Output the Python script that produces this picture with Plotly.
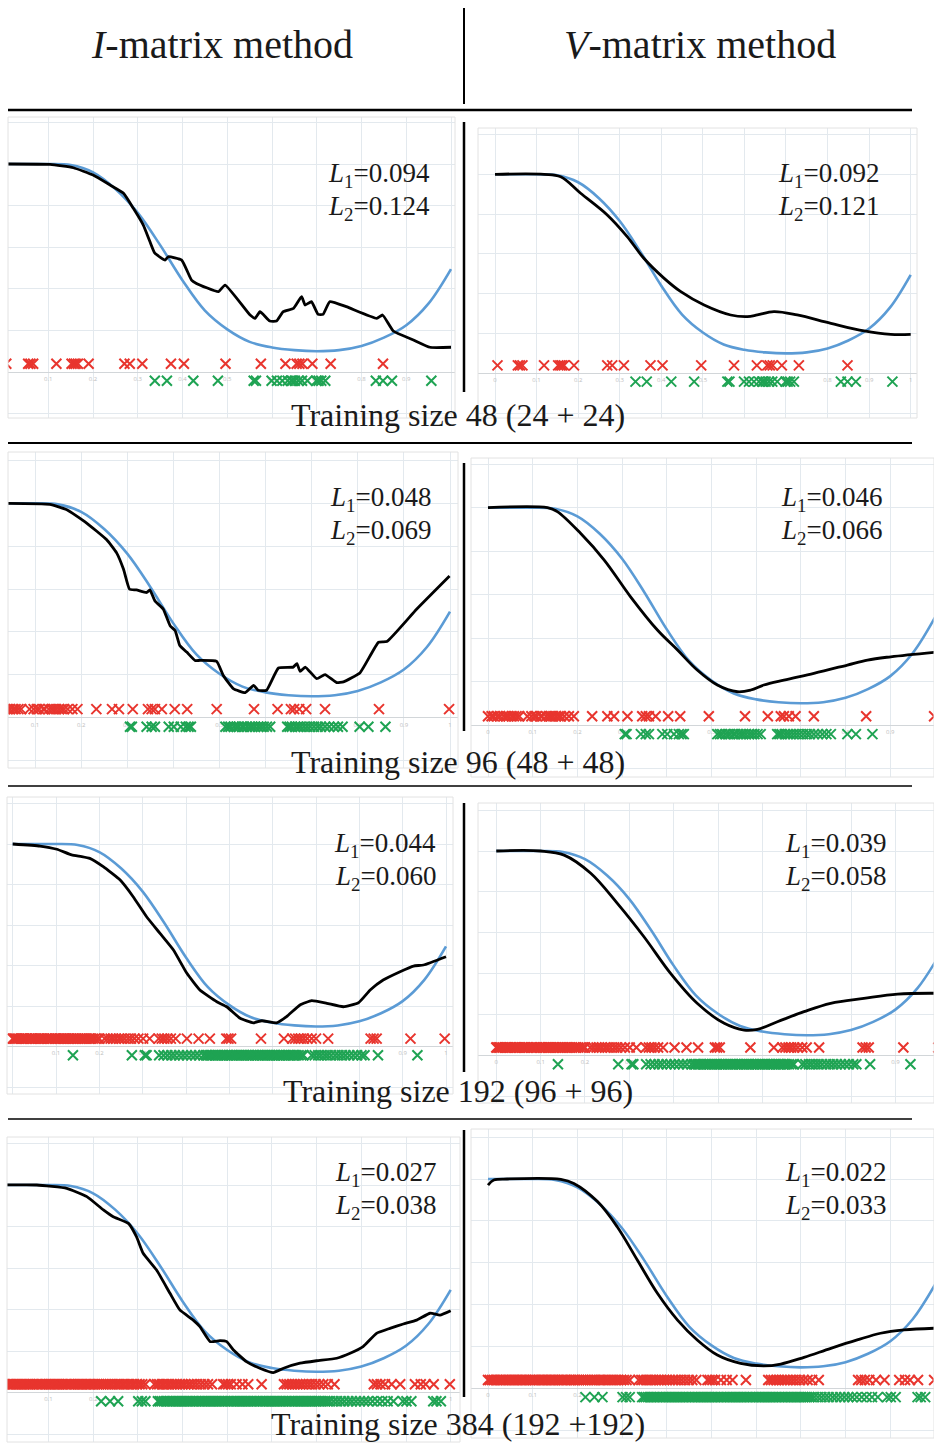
import plotly.graph_objects as go

W, H = 934, 1444

# ---------------- data ----------------
true_x = [0.0, 0.05, 0.1, 0.15, 0.2, 0.25, 0.3, 0.35, 0.4, 0.45, 0.5,
          0.55, 0.6, 0.65, 0.7, 0.75, 0.8, 0.85, 0.9, 0.95, 1.0]
true_y = [1.0, 1.0, 1.0, 0.995, 0.96, 0.88, 0.765, 0.61, 0.44, 0.295, 0.205,
          0.145, 0.118, 0.105, 0.10, 0.105, 0.125, 0.165, 0.225, 0.33, 0.495]

i48_x = [0.0, 0.008, 0.104, 0.156, 0.2, 0.238, 0.268, 0.29, 0.312, 0.327, 0.338, 0.361, 0.368, 0.398,
         0.42, 0.431, 0.48, 0.495, 0.551, 0.562, 0.573, 0.595, 0.61, 0.625, 0.648, 0.666, 0.674,
         0.688, 0.703, 0.714, 0.729, 0.766, 0.834, 0.847, 0.871, 0.916, 0.953, 1.0]
i48_y = [1.0, 1.0, 0.998, 0.982, 0.947, 0.899, 0.859, 0.787, 0.707, 0.627, 0.571, 0.538, 0.554, 0.538,
         0.442, 0.426, 0.386, 0.418, 0.274, 0.258, 0.29, 0.245, 0.245, 0.29, 0.306, 0.362, 0.322,
         0.338, 0.277, 0.277, 0.338, 0.314, 0.258, 0.274, 0.197, 0.154, 0.119, 0.119]

v48_x = [0.0, 0.118, 0.158, 0.206, 0.27, 0.318, 0.358, 0.407, 0.447, 0.503, 0.567, 0.607, 0.631,
         0.671, 0.727, 0.808, 0.888, 0.952, 1.0]
v48_y = [1.0, 1.0, 0.988, 0.905, 0.796, 0.687, 0.578, 0.477, 0.41, 0.343, 0.293, 0.285, 0.293,
         0.31, 0.293, 0.251, 0.213, 0.196, 0.196]

i96_x = [0.0, 0.132, 0.169, 0.212, 0.255, 0.277, 0.292, 0.305, 0.32, 0.342, 0.349, 0.36, 0.378, 0.393,
         0.404, 0.414, 0.429, 0.447, 0.458, 0.494, 0.508, 0.53, 0.556, 0.574, 0.584, 0.602, 0.628,
         0.66, 0.668, 0.675, 0.686, 0.711, 0.729, 0.754, 0.769, 0.805, 0.845, 0.863, 0.928, 0.999]
i96_y = [1.0, 0.995, 0.97, 0.908, 0.831, 0.769, 0.692, 0.599, 0.596, 0.584, 0.596, 0.545, 0.507, 0.429,
         0.406, 0.337, 0.306, 0.267, 0.267, 0.263, 0.198, 0.136, 0.117, 0.151, 0.128, 0.128, 0.232,
         0.236, 0.252, 0.216, 0.236, 0.182, 0.201, 0.164, 0.167, 0.21, 0.352, 0.355, 0.507, 0.661]

v96_x = [0.0, 0.133, 0.155, 0.207, 0.26, 0.319, 0.379, 0.424, 0.468, 0.513, 0.558, 0.588, 0.617,
         0.662, 0.729, 0.804, 0.849, 0.901, 1.0]
v96_y = [1.0, 1.0, 0.982, 0.882, 0.759, 0.59, 0.437, 0.345, 0.253, 0.184, 0.153, 0.161, 0.184,
         0.207, 0.238, 0.276, 0.299, 0.314, 0.335]

i192_x = [0.0, 0.063, 0.102, 0.136, 0.159, 0.178, 0.209, 0.248, 0.278, 0.309, 0.34, 0.371, 0.402,
          0.432, 0.471, 0.494, 0.525, 0.555, 0.575, 0.609, 0.632, 0.663, 0.69, 0.725, 0.763, 0.798,
          0.825, 0.855, 0.894, 0.925, 0.948, 1.0]
i192_y = [1.0, 0.99, 0.974, 0.946, 0.938, 0.929, 0.888, 0.822, 0.74, 0.641, 0.559, 0.477, 0.362,
          0.28, 0.222, 0.197, 0.14, 0.118, 0.128, 0.118, 0.148, 0.206, 0.227, 0.214, 0.197, 0.217,
          0.28, 0.329, 0.37, 0.398, 0.403, 0.444]

v192_x = [0.0, 0.1, 0.153, 0.213, 0.273, 0.333, 0.393, 0.453, 0.514, 0.559, 0.589, 0.634, 0.694,
          0.754, 0.829, 0.905, 0.987]
v192_y = [1.0, 1.0, 0.98, 0.891, 0.744, 0.581, 0.402, 0.256, 0.158, 0.125, 0.129, 0.166, 0.215,
          0.256, 0.28, 0.301, 0.305]

i384_x = [0.0, 0.074, 0.141, 0.186, 0.223, 0.245, 0.279, 0.297, 0.312, 0.342, 0.372, 0.394, 0.424,
          0.439, 0.462, 0.484, 0.499, 0.514, 0.543, 0.573, 0.603, 0.626, 0.663, 0.7, 0.745, 0.775,
          0.804, 0.834, 0.864, 0.894, 0.924, 0.954, 0.976, 1.0]
i384_y = [1.0, 1.0, 0.984, 0.944, 0.88, 0.847, 0.815, 0.751, 0.671, 0.59, 0.478, 0.398, 0.349,
          0.317, 0.245, 0.25, 0.245, 0.205, 0.149, 0.117, 0.096, 0.117, 0.141, 0.153, 0.165, 0.189,
          0.221, 0.285, 0.309, 0.33, 0.349, 0.382, 0.373, 0.394]

v384_x = [0.0, 0.013, 0.043, 0.163, 0.192, 0.245, 0.289, 0.334, 0.379, 0.424, 0.468, 0.513, 0.565,
          0.617, 0.655, 0.707, 0.767, 0.826, 0.878, 0.931, 1.0]
v384_y = [0.971, 0.995, 1.0, 0.998, 0.979, 0.892, 0.772, 0.613, 0.454, 0.326, 0.231, 0.159, 0.119,
          0.107, 0.116, 0.148, 0.191, 0.231, 0.263, 0.279, 0.287]

# training points (class 0 = red, class 1 = green), x positions
red48 = [0.006, 0.055, 0.06, 0.066, 0.118, 0.152, 0.157, 0.161, 0.166, 0.19, 0.27, 0.282, 0.31,
         0.374, 0.403, 0.496, 0.575, 0.63, 0.655, 0.661, 0.668, 0.69, 0.731, 0.848]
green48 = [0.338, 0.365, 0.424, 0.479, 0.559, 0.564, 0.599, 0.611, 0.623, 0.635, 0.643, 0.645,
           0.651, 0.659, 0.667, 0.679, 0.699, 0.704, 0.71, 0.719, 0.832, 0.848, 0.868, 0.956]

red96 = [0.0, 0.008, 0.013, 0.021, 0.027, 0.035, 0.041, 0.046, 0.053, 0.058, 0.064, 0.07,
         0.088, 0.097, 0.104, 0.109, 0.118, 0.121, 0.13, 0.136, 0.141, 0.146, 0.152, 0.158,
         0.163, 0.171, 0.181, 0.192, 0.233, 0.267, 0.282, 0.312, 0.345, 0.353, 0.36, 0.375,
         0.403, 0.43, 0.494, 0.575, 0.626, 0.655, 0.662, 0.673, 0.688, 0.729, 0.846, 0.998]
green96 = [0.306, 0.31, 0.342, 0.353, 0.36, 0.39, 0.401, 0.416, 0.427, 0.433, 0.438,
           0.513, 0.519, 0.524, 0.531, 0.537, 0.542, 0.549, 0.553, 0.56, 0.566, 0.571, 0.577,
           0.584, 0.59, 0.596, 0.603, 0.61, 0.647, 0.652, 0.657, 0.664, 0.67, 0.676, 0.683,
           0.69, 0.697, 0.705, 0.713, 0.72, 0.729, 0.738, 0.748, 0.757, 0.767, 0.804, 0.823, 0.86]

red192 = [0.0, 0.002, 0.005, 0.008, 0.011, 0.015, 0.019, 0.023, 0.027, 0.031, 0.034, 0.039, 0.042,
          0.044, 0.047, 0.051, 0.054, 0.058, 0.062, 0.065, 0.069, 0.073, 0.078, 0.081, 0.085,
          0.089, 0.092, 0.097, 0.1, 0.104, 0.108, 0.112, 0.116, 0.118, 0.121, 0.124, 0.128,
          0.131, 0.135, 0.139, 0.143, 0.147, 0.151, 0.155, 0.159, 0.163, 0.167, 0.171, 0.176,
          0.18, 0.185, 0.19, 0.196, 0.2,
          0.212, 0.219, 0.226, 0.232, 0.238, 0.245, 0.251, 0.258, 0.266, 0.273, 0.281, 0.29,
          0.301, 0.316, 0.337, 0.344, 0.35, 0.357, 0.365, 0.376, 0.402, 0.429, 0.455,
          0.493, 0.498, 0.504, 0.573, 0.626, 0.645, 0.652, 0.659, 0.665, 0.672, 0.68, 0.69,
          0.70, 0.728, 0.826, 0.833, 0.84, 0.918, 0.997]
green192 = [0.139, 0.275, 0.305, 0.309,
            0.338, 0.348, 0.357, 0.366, 0.374, 0.384, 0.393, 0.402, 0.412, 0.421, 0.43, 0.44,
            0.446, 0.449, 0.454, 0.457, 0.462, 0.467, 0.47, 0.474, 0.479, 0.482, 0.486, 0.491,
            0.494, 0.498, 0.503, 0.506, 0.51, 0.515, 0.518, 0.522, 0.527, 0.53, 0.534, 0.539,
            0.542, 0.546, 0.551, 0.554, 0.558, 0.563, 0.566, 0.57, 0.575, 0.578, 0.582, 0.587,
            0.59, 0.594, 0.599, 0.602, 0.606, 0.611, 0.614, 0.618, 0.623, 0.626, 0.63, 0.635,
            0.638, 0.642, 0.647, 0.65, 0.655, 0.66, 0.666, 0.671,
            0.69, 0.697, 0.705, 0.712, 0.72, 0.727, 0.735, 0.744, 0.752, 0.76, 0.768, 0.777,
            0.786, 0.795, 0.805, 0.812, 0.843, 0.934]

red384 = [0.0, 0.004, 0.009, 0.013, 0.017, 0.021, 0.026, 0.03, 0.034, 0.039, 0.043, 0.047,
          0.052, 0.056, 0.06, 0.065, 0.069, 0.074, 0.078, 0.082, 0.086, 0.091, 0.095, 0.1,
          0.104, 0.108, 0.113, 0.117, 0.121, 0.125, 0.13, 0.134, 0.139, 0.143, 0.147, 0.151,
          0.156, 0.16, 0.165, 0.169, 0.173, 0.177, 0.182, 0.186, 0.191, 0.195, 0.2, 0.204,
          0.209, 0.213, 0.218, 0.223, 0.228, 0.233, 0.238, 0.243, 0.249, 0.254, 0.259, 0.265,
          0.27, 0.276, 0.281, 0.287, 0.292, 0.298, 0.304, 0.31, 0.317,
          0.337, 0.343, 0.348, 0.354, 0.359, 0.365, 0.37, 0.376, 0.382, 0.388, 0.394, 0.4,
          0.406, 0.413, 0.419, 0.426, 0.433, 0.441, 0.449, 0.457, 0.466,
          0.491, 0.496, 0.502, 0.508, 0.521, 0.534, 0.547, 0.577,
          0.627, 0.633, 0.639, 0.645, 0.651, 0.657, 0.663, 0.669, 0.676, 0.683, 0.69, 0.698,
          0.706, 0.715, 0.725, 0.74,
          0.828, 0.835, 0.843, 0.853, 0.868, 0.887, 0.92, 0.933, 0.944, 0.962, 0.998]
green384 = [0.218, 0.238, 0.256, 0.301, 0.309, 0.317,
            0.345, 0.349, 0.353, 0.358, 0.362, 0.366, 0.371, 0.375, 0.379, 0.384, 0.388, 0.392,
            0.397, 0.401, 0.405, 0.41, 0.414, 0.418, 0.423, 0.427, 0.431, 0.436, 0.44, 0.444,
            0.449, 0.453, 0.457, 0.462, 0.466, 0.47, 0.475, 0.479, 0.483, 0.488, 0.492, 0.496,
            0.501, 0.505, 0.509, 0.514, 0.518, 0.522, 0.527, 0.531, 0.535, 0.54, 0.544, 0.548,
            0.553, 0.557, 0.561, 0.566, 0.57, 0.574, 0.579, 0.583, 0.587, 0.592, 0.596, 0.6,
            0.605, 0.609, 0.613, 0.618, 0.622, 0.626, 0.631, 0.635, 0.639, 0.644, 0.648, 0.652,
            0.657, 0.661, 0.665, 0.67, 0.674, 0.678, 0.683, 0.687, 0.691, 0.696, 0.7, 0.705,
            0.709, 0.714, 0.719, 0.724, 0.73,
            0.738, 0.746, 0.754, 0.762, 0.771, 0.779, 0.788, 0.797, 0.806, 0.815, 0.825, 0.836,
            0.847, 0.859, 0.872, 0.893, 0.901, 0.912, 0.961, 0.968, 0.978]

x_tick_vals = [0, 0.1, 0.2, 0.3, 0.4, 0.5, 0.6, 0.7, 0.8, 0.9, 1]
x_tick_text = ["0", "0.1", "0.2", "0.3", "0.4", "0.5", "0.6", "0.7", "0.8", "0.9", "1"]
y_tick_vals = [-0.2, 0, 0.2, 0.4, 0.6, 0.8, 1.0, 1.2]
y_tick_text = ["-0.2", "0", "0.2", "0.4", "0.6", "0.8", "1", "1.2"]

header_texts = ["<i>I</i>-matrix method", "<i>V</i>-matrix method"]
caption_texts = ["Training size 48 (24 + 24)", "Training size 96 (48 + 48)",
                 "Training size 192 (96 + 96)", "Training size 384 (192 +192)"]
loss_text = {
    "i48": ("0.094", "0.124"), "v48": ("0.092", "0.121"),
    "i96": ("0.048", "0.069"), "v96": ("0.046", "0.066"),
    "i192": ("0.044", "0.060"), "v192": ("0.039", "0.058"),
    "i384": ("0.027", "0.038"), "v384": ("0.022", "0.033"),
}

curves = {
    "i48": (i48_x, i48_y), "v48": (v48_x, v48_y),
    "i96": (i96_x, i96_y), "v96": (v96_x, v96_y),
    "i192": (i192_x, i192_y), "v192": (v192_x, v192_y),
    "i384": (i384_x, i384_y), "v384": (v384_x, v384_y),
}
points = {
    "48": (red48, green48), "96": (red96, green96),
    "192": (red192, green192), "384": (red384, green384),
}

# ---------------- layout (pixel geometry of each panel) ----------------
# box: image bounds (left, right, top, bottom); cal: pixel of x=0, x=1, y=1, y=0
panel_geom = {
    "i48": dict(box=(8, 455, 117, 418), cal=(3.6, 451, 164, 372)),
    "v48": dict(box=(478, 917, 128, 418), cal=(495, 910.7, 174.3, 373.3)),
    "i96": dict(box=(8, 458, 452, 768), cal=(-11.1, 450, 503.3, 717.7)),
    "v96": dict(box=(471, 934, 458, 777), cal=(488, 935, 507.7, 725)),
    "i192": dict(box=(7, 453, 797, 1094), cal=(12.7, 446, 844, 1046.7)),
    "v192": dict(box=(478, 934, 803, 1103), cal=(496.3, 939.7, 851, 1055.7)),
    "i384": dict(box=(7, 460, 1137, 1442), cal=(3.7, 450.7, 1185, 1392.5)),
    "v384": dict(box=(471, 934, 1129, 1438), cal=(488, 935, 1179, 1388.3)),
}
loss_pos = {
    "i48": (432, 175, 208), "v48": (881, 175, 208),
    "i96": (433, 499, 532), "v96": (884, 499, 532),
    "i192": (438, 845, 878), "v192": (888, 845, 878),
    "i384": (438, 1174, 1207), "v384": (888, 1174, 1207),
}
caption_pos = [(458, 415), (458, 762), (458, 1091), (458, 1424)]

SERIF = "Times New Roman, Liberation Serif, serif"
RED = "#e8352e"
GREEN = "#1fa353"
BLUE = "#5b9bd5"
GRID = "#e3e9ee"

fig = go.Figure()
layout = dict(width=W, height=H, margin=dict(l=0, r=0, t=0, b=0),
              paper_bgcolor="white", plot_bgcolor="white", showlegend=False)
shapes = []
annotations = []

def px(x):
    return x / W

def py(y):
    return 1 - y / H

for k, (name, g) in enumerate(panel_geom.items(), start=1):
    bx0, bx1, by0, by1 = g["box"]
    x0, x1, y1, y0 = g["cal"]
    xr = [(bx0 - x0) / (x1 - x0), (bx1 - x0) / (x1 - x0)]
    yr = [(y0 - by1) / (y0 - y1), (y0 - by0) / (y0 - y1)]
    xa = "x" if k == 1 else f"x{k}"
    ya = "y" if k == 1 else f"y{k}"
    layout["xaxis" if k == 1 else f"xaxis{k}"] = dict(
        domain=[px(bx0), px(bx1)], range=xr, anchor=ya, showticklabels=False,
        showgrid=True, gridcolor=GRID, gridwidth=1, tick0=0, dtick=0.1,
        zeroline=False, showline=False, ticks="", fixedrange=True)
    layout["yaxis" if k == 1 else f"yaxis{k}"] = dict(
        domain=[py(by1), py(by0)], range=yr, anchor=xa, showticklabels=False,
        showgrid=True, gridcolor=GRID, gridwidth=1, tick0=0, dtick=0.2,
        zeroline=True, zerolinecolor="#d2d6d9", zerolinewidth=1,
        showline=False, ticks="", fixedrange=True)
    shapes.append(dict(type="rect", xref="paper", yref="paper",
                       x0=px(bx0), x1=px(bx1), y0=py(by1), y1=py(by0),
                       line=dict(color="#e2e2e2", width=1)))

    size = name[1:]
    red, green = points[size]
    # tiny excel tick labels (only those inside the visible panel)
    xt = [(v, t) for v, t in zip(x_tick_vals, x_tick_text) if xr[0] + 0.015 < v < xr[1] - 0.01]
    fig.add_trace(go.Scatter(x=[v for v, _ in xt], y=[-0.035] * len(xt), text=[t for _, t in xt],
                             mode="text", textfont=dict(size=6, color="#bdbdbd"),
                             xaxis=xa, yaxis=ya, hoverinfo="skip"))
    if xr[0] < -0.045:
        fig.add_trace(go.Scatter(x=[-0.03] * len(y_tick_vals), y=y_tick_vals, text=y_tick_text,
                                 mode="text", textfont=dict(size=6, color="#bdbdbd"),
                                 xaxis=xa, yaxis=ya, hoverinfo="skip"))
    fig.add_trace(go.Scatter(x=red, y=[0.04] * len(red), mode="markers",
                             marker=dict(symbol="x-thin", size=10, color=RED,
                                         line=dict(width=2, color=RED)),
                             xaxis=xa, yaxis=ya, hoverinfo="skip"))
    fig.add_trace(go.Scatter(x=green, y=[-0.042] * len(green), mode="markers",
                             marker=dict(symbol="x-thin", size=10, color=GREEN,
                                         line=dict(width=2, color=GREEN)),
                             xaxis=xa, yaxis=ya, hoverinfo="skip"))
    fig.add_trace(go.Scatter(x=true_x, y=true_y, mode="lines",
                             line=dict(color=BLUE, width=2.6, shape="spline", smoothing=1.0),
                             xaxis=xa, yaxis=ya, hoverinfo="skip"))
    cx, cy = curves[name]
    smooth = 1.0 if name.startswith("v") else 0.4
    fig.add_trace(go.Scatter(x=cx, y=cy, mode="lines",
                             line=dict(color="black", width=2.8, shape="spline", smoothing=smooth),
                             xaxis=xa, yaxis=ya, hoverinfo="skip"))

    l1, l2 = loss_text[name]
    rx, ty1, ty2 = loss_pos[name]
    annotations.append(dict(xref="paper", yref="paper", x=px(rx), y=py(ty1),
                            xanchor="right", yanchor="middle", showarrow=False,
                            text="<i>L</i><sub>1</sub>=" + l1,
                            font=dict(family=SERIF, size=27, color="#1a1a1a")))
    annotations.append(dict(xref="paper", yref="paper", x=px(rx), y=py(ty2),
                            xanchor="right", yanchor="middle", showarrow=False,
                            text="<i>L</i><sub>2</sub>=" + l2,
                            font=dict(family=SERIF, size=27, color="#1a1a1a")))

# headers
for t, cx in zip(header_texts, [222, 700]):
    annotations.append(dict(xref="paper", yref="paper", x=px(cx), y=py(45),
                            xanchor="center", yanchor="middle", showarrow=False, text=t,
                            font=dict(family=SERIF, size=40, color="#1a1a1a")))
# captions
for t, (cx, cy) in zip(caption_texts, caption_pos):
    annotations.append(dict(xref="paper", yref="paper", x=px(cx), y=py(cy),
                            xanchor="center", yanchor="middle", showarrow=False, text=t,
                            font=dict(family=SERIF, size=32, color="#1a1a1a")))

def hline(x0, x1, y, w):
    shapes.append(dict(type="line", xref="paper", yref="paper", x0=px(x0), x1=px(x1),
                       y0=py(y), y1=py(y), line=dict(color="black", width=w)))

def vline(x, y0, y1, w):
    shapes.append(dict(type="line", xref="paper", yref="paper", x0=px(x), x1=px(x),
                       y0=py(y0), y1=py(y1), line=dict(color="black", width=w)))

hline(8, 912, 110, 2.5)
hline(8, 912, 443, 2)
hline(8, 912, 786, 1.5)
hline(8, 912, 1119, 1.5)
vline(464, 8, 104, 2)
vline(464, 122, 392, 2.5)
vline(464, 463, 731, 2.5)
vline(464, 803, 1072, 2.5)
vline(464, 1130, 1397, 2.5)

layout["shapes"] = shapes
layout["annotations"] = annotations
fig.update_layout(**layout)
fig.write_html("out.html", config={"displayModeBar": False},
               post_script="document.body.style.margin='0';document.body.style.padding='0';"
                           "document.documentElement.style.overflow='hidden';")
